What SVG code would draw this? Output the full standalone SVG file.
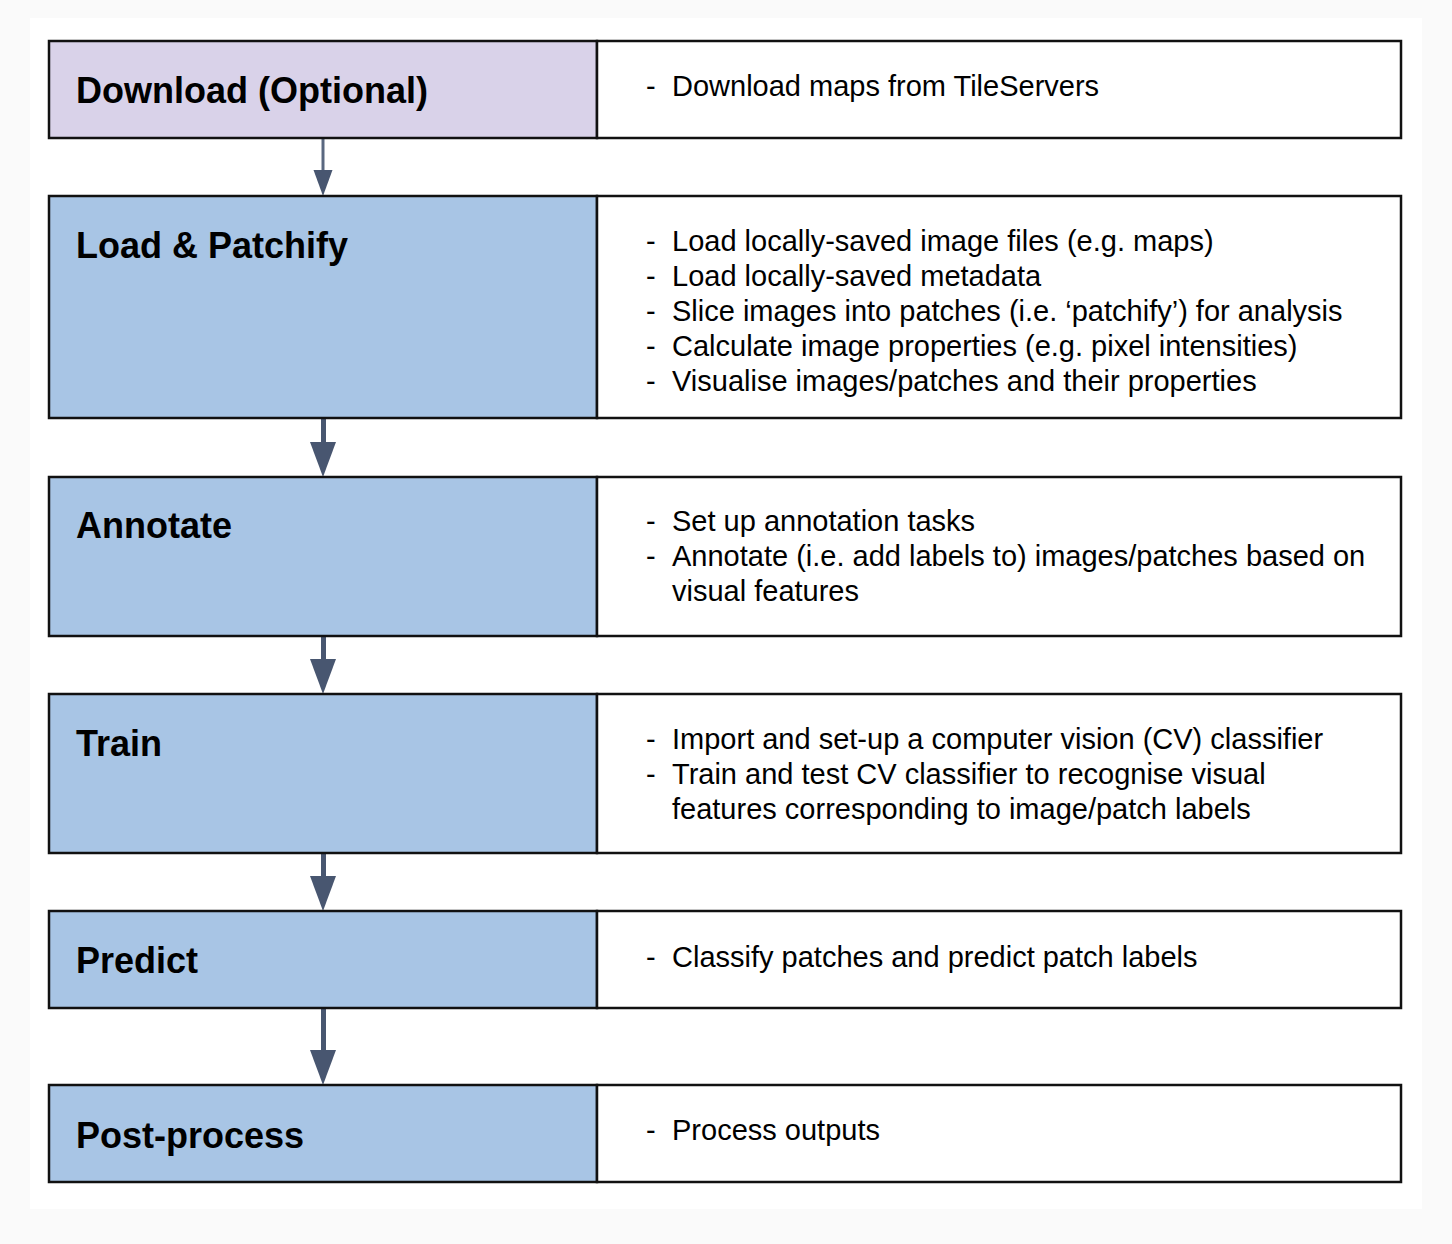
<svg xmlns="http://www.w3.org/2000/svg" width="1452" height="1244" viewBox="0 0 1452 1244">
<defs>
<style>
.box{stroke:#111;stroke-width:2.5}
.title{font-family:"Liberation Sans",Arial,sans-serif;font-weight:bold;font-size:36px;fill:#000}
.body{font-family:"Liberation Sans",Arial,sans-serif;font-size:29px;fill:#000}
.purple{fill:#d9d2e9}
.blue{fill:#a8c5e5}
.white{fill:#fff}
.stem{stroke:#485670;stroke-width:5}
.head{fill:#485670}
</style>
</defs>
<rect x="0" y="0" width="1452" height="1244" fill="#fafafa"/>
<rect x="30" y="18" width="1392" height="1191" fill="#fff"/>

<g id="connectors">
  <line x1="323" y1="139" x2="323" y2="172" stroke="#5a6880" stroke-width="3"/>
  <polygon points="313.5,170 332.5,170 323,196" fill="#485670"/>
  <line class="stem" x1="323.5" y1="419" x2="323.5" y2="444"/>
  <polygon class="head" points="310,442 336,442 323,477"/>
  <line class="stem" x1="323.5" y1="637" x2="323.5" y2="661"/>
  <polygon class="head" points="310,659 336,659 323,694"/>
  <line class="stem" x1="323.5" y1="854" x2="323.5" y2="878"/>
  <polygon class="head" points="310,876 336,876 323,911"/>
  <line class="stem" x1="323.5" y1="1009" x2="323.5" y2="1052"/>
  <polygon class="head" points="310,1050 336,1050 323,1085"/>
</g>

<g id="download">
  <rect class="box purple" x="49" y="41" width="548" height="97"/>
  <rect class="box white" x="597" y="41" width="804" height="97"/>
  <text class="title" x="76" y="103">Download (Optional)</text>
  <text class="body" x="646" y="96">-</text>
  <text class="body" x="672" y="96">Download maps from TileServers</text>
</g>

<g id="load">
  <rect class="box blue" x="49" y="196" width="548" height="222"/>
  <rect class="box white" x="597" y="196" width="804" height="222"/>
  <text class="title" x="76" y="258">Load &amp; Patchify</text>
  <text class="body" x="646" y="251">-</text>
  <text class="body" x="672" y="251">Load locally-saved image files (e.g. maps)</text>
  <text class="body" x="646" y="286">-</text>
  <text class="body" x="672" y="286">Load locally-saved metadata</text>
  <text class="body" x="646" y="321">-</text>
  <text class="body" x="672" y="321">Slice images into patches (i.e. ‘patchify’) for analysis</text>
  <text class="body" x="646" y="356">-</text>
  <text class="body" x="672" y="356">Calculate image properties (e.g. pixel intensities)</text>
  <text class="body" x="646" y="391">-</text>
  <text class="body" x="672" y="391">Visualise images/patches and their properties</text>
</g>

<g id="annotate">
  <rect class="box blue" x="49" y="477" width="548" height="159"/>
  <rect class="box white" x="597" y="477" width="804" height="159"/>
  <text class="title" x="76" y="538">Annotate</text>
  <text class="body" x="646" y="531">-</text>
  <text class="body" x="672" y="531">Set up annotation tasks</text>
  <text class="body" x="646" y="566">-</text>
  <text class="body" x="672" y="566">Annotate (i.e. add labels to) images/patches based on</text>
  <text class="body" x="672" y="601">visual features</text>
</g>

<g id="train">
  <rect class="box blue" x="49" y="694" width="548" height="159"/>
  <rect class="box white" x="597" y="694" width="804" height="159"/>
  <text class="title" x="76" y="756">Train</text>
  <text class="body" x="646" y="749">-</text>
  <text class="body" x="672" y="749">Import and set-up a computer vision (CV) classifier</text>
  <text class="body" x="646" y="784">-</text>
  <text class="body" x="672" y="784">Train and test CV classifier to recognise visual</text>
  <text class="body" x="672" y="819">features corresponding to image/patch labels</text>
</g>

<g id="predict">
  <rect class="box blue" x="49" y="911" width="548" height="97"/>
  <rect class="box white" x="597" y="911" width="804" height="97"/>
  <text class="title" x="76" y="973">Predict</text>
  <text class="body" x="646" y="967">-</text>
  <text class="body" x="672" y="967">Classify patches and predict patch labels</text>
</g>

<g id="postprocess">
  <rect class="box blue" x="49" y="1085" width="548" height="97"/>
  <rect class="box white" x="597" y="1085" width="804" height="97"/>
  <text class="title" x="76" y="1148">Post-process</text>
  <text class="body" x="646" y="1140">-</text>
  <text class="body" x="672" y="1140">Process outputs</text>
</g>
</svg>
